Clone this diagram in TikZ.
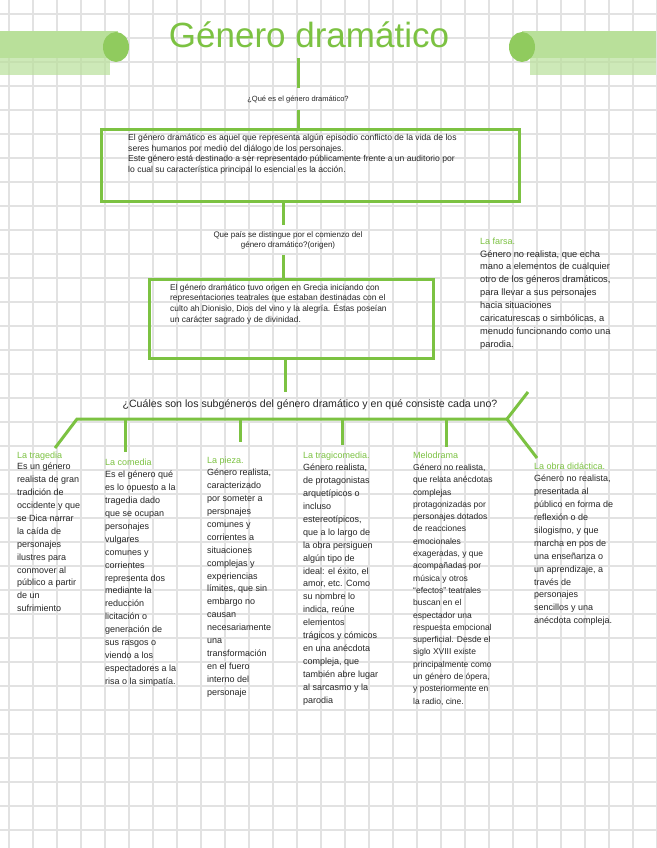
\documentclass[tikz,border=0pt]{standalone}
\usepackage{fontspec}
\setmainfont{Liberation Sans}
\definecolor{gr}{HTML}{7CC242}
\definecolor{lgr}{HTML}{B9E09A}
\definecolor{grid}{HTML}{E2E2E2}
\tikzset{
  ln/.style={gr,line width=3pt},
  bx/.style={draw=gr,line width=3pt},
  col/.style={anchor=north west,align=left,inner sep=0pt,font=\fontsize{9}{12.9}\selectfont,text=black!85},
  hd/.style={anchor=north west,inner sep=0pt,font=\fontsize{9}{10}\selectfont,text=gr},
  sm/.style={align=left,inner sep=0pt,font=\fontsize{7.5}{9.6}\selectfont,text=black!85},
}
\begin{document}
\begin{tikzpicture}[x=1pt,y=-1pt]
\useasboundingbox (0,0) rectangle (656,848);
\fill[white] (0,0) rectangle (656,848);
\foreach \i in {0,...,27} {\draw[grid,line width=1.2pt] (9+24*\i,0) -- (9+24*\i,848);}
\foreach \i in {0,...,35} {\draw[grid,line width=1.2pt] (0,14+24*\i) -- (656,14+24*\i);}
% decorations
\fill[lgr] (0,31) rectangle (118,58);
\fill[lgr,opacity=.7] (0,36) rectangle (110,75);
\fill[gr!85] (116,47) ellipse (13 and 15);
\fill[lgr] (522,31) rectangle (656,58);
\fill[lgr,opacity=.7] (530,36) rectangle (656,75);
\fill[gr!85] (522,47) ellipse (13 and 15);
\node[text=gr,font=\fontsize{35}{38}\selectfont] (title) at (309,35) {Género dramático};
\coordinate (t1) at (298,58);
\node[sm] (q1) at (298,100) {¿Qué es el género dramático?};
\draw[ln] (t1) -- (298,88);
\node[bx,minimum width=418,minimum height=72,anchor=north west] (b1) at (100,128) {};
\node[sm,anchor=north west,font=\fontsize{8.6}{10.5}\selectfont] at (128,134) {El género dramático es aquel que representa algún episodio conflicto de la vida de los\\seres humanos por medio del diálogo de los personajes.\\Este género está destinado a ser representado públicamente frente a un auditorio por\\lo cual su característica principal lo esencial es la acción.};
\draw[ln] (298,110) -- (298,128);
\draw[ln] (283,200) -- (283,225);
\node[sm,align=center,font=\fontsize{8}{10}\selectfont] (q2) at (288,240) {Que país se distingue por el comienzo del\\género dramático?(origen)};
\draw[ln] (283,255) -- (283,278);
\node[bx,minimum width=284,minimum height=79,anchor=north west] (b2) at (148,278) {};
\node[sm,anchor=north west,font=\fontsize{8.4}{10.6}\selectfont] at (170,284) {El género dramático tuvo origen en Grecia iniciando con\\representaciones teatrales que estaban destinadas con el\\culto ah Dionisio, Dios del vino y la alegría. Éstas poseían\\un carácter sagrado y de divinidad.};
\draw[ln] (285,357) -- (285,392);
\node[inner sep=0pt,font=\fontsize{10.6}{12}\selectfont,text=black!85] (q3) at (310,405) {¿Cuáles son los subgéneros del género dramático y en qué consiste cada uno?};
\coordinate (hl) at (77,419); \coordinate (hr) at (507,419);
\draw[ln] (55,448) -- (hl) -- (hr);
\draw[ln] (528,392) -- (hr) -- (537,458);
\draw[ln] (125,419) -- (125,452);
\draw[ln] (240,419) -- (240,442);
\draw[ln] (342,419) -- (342,445);
\draw[ln] (446,419) -- (446,447);
% columns
\node[hd] (h1) at (17,452) {La tragedia};
\node[col] at (17,463) {Es un género\\realista de gran\\tradición de\\occidente y que\\se Dica narrar\\la caída de\\personajes\\ilustres para\\conmover al\\público a partir\\de un\\sufrimiento};
\node[hd] (h2) at (105,459) {La comedia};
\node[col] at (105,471) {Es el género qué\\es lo opuesto a la\\tragedia dado\\que se ocupan\\personajes\\vulgares\\comunes y\\corrientes\\representa dos\\mediante la\\reducción\\licitación o\\generación de\\sus rasgos o\\viendo a los\\espectadores a la\\risa o la simpatía.};
\node[hd] (h3) at (207,457) {La pieza.};
\node[col] at (207,469) {Género realista,\\caracterizado\\por someter a\\personajes\\comunes y\\corrientes a\\situaciones\\complejas y\\experiencias\\límites, que sin\\embargo no\\causan\\necesariamente\\una\\transformación\\en el fuero\\interno del\\personaje};
\node[hd] (h4) at (303,452) {La tragicomedia.};
\node[col] at (303,464) {Género realista,\\de protagonistas\\arquetípicos o\\incluso\\estereotípicos,\\que a lo largo de\\la obra persiguen\\algún tipo de\\ideal: el éxito, el\\amor, etc. Como\\su nombre lo\\indica, reúne\\elementos\\trágicos y cómicos\\en una anécdota\\compleja, que\\también abre lugar\\al sarcasmo y la\\parodia};
\node[hd] (h5) at (413,452) {Melodrama};
\node[col,font=\fontsize{8.5}{12.3}\selectfont] at (413,464) {Género no realista,\\que relata anécdotas\\complejas\\protagonizadas por\\personajes dotados\\de reacciones\\emocionales\\exageradas, y que\\acompañadas por\\música y otros\\“efectos” teatrales\\buscan en el\\espectador una\\respuesta emocional\\superficial. Desde el\\siglo XVIII existe\\principalmente como\\un género de ópera,\\y posteriormente en\\la radio, cine.};
\node[hd] (h6) at (534,463) {La obra didáctica.};
\node[col] at (534,475) {Género no realista,\\presentada al\\público en forma de\\reflexión o de\\silogismo, y que\\marcha en pos de\\una enseñanza o\\un aprendizaje, a\\través de\\personajes\\sencillos y una\\anécdota compleja.};
\node[hd] (h7) at (480,238) {La farsa.};
\node[col,font=\fontsize{9.3}{12.9}\selectfont] at (480,250) {Género no realista, que echa\\mano a elementos de cualquier\\otro de los géneros dramáticos,\\para llevar a sus personajes\\hacia situaciones\\caricaturescas o simbólicas, a\\menudo funcionando como una\\parodia.};
\end{tikzpicture}
\end{document}
